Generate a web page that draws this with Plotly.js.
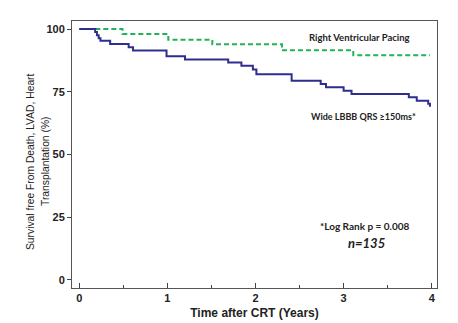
<!DOCTYPE html>
<html><head><meta charset="utf-8">
<script src="https://cdn.plot.ly/plotly-3.0.1.min.js"></script>
<style>html,body{margin:0;padding:0;background:#fff}#chart{width:458px;height:323px}</style>
</head><body><div id="chart"></div>
<script>
// Wide LBBB QRS >=150ms (blue, solid)
const lbbbTime = [0, 0.18, 0.20, 0.22, 0.24, 0.35, 0.56, 0.61, 0.99, 1.20, 1.69, 1.84, 1.97, 2.01, 2.41, 2.74, 2.80, 3.00, 3.09, 3.74, 3.83, 3.96, 3.98];
const lbbbSurv = [100, 98.8, 97.5, 96.3, 95.3, 94.0, 92.7, 91.4, 89.2, 87.9, 86.7, 85.4, 83.9, 82.0, 79.4, 78.1, 76.8, 75.4, 74.1, 72.8, 71.4, 70.2, 69.0];
// Right ventricular pacing (green, dashed)
const rvpTime = [0, 0.49, 1.01, 1.51, 2.30, 3.11, 3.98];
const rvpSurv = [100, 98.0, 95.7, 93.9, 91.5, 89.6, 89.6];
const xTicks = [0, 1, 2, 3, 4];
const yTicks = [0, 25, 50, 75, 100];
const yTitleLines = ['Survival free From Death, LVAD, Heart', 'Transplantation (%)'];

const boldFont = {family: 'Liberation Sans, Arial, sans-serif', size: 11, color: '#222', weight: 'bold'};
const titleFont = {family: 'Liberation Sans, Arial, sans-serif', size: 10.3, color: '#222'};
const traces = [
  {x: rvpTime, y: rvpSurv, mode: 'lines', line: {shape: 'hv', color: '#22b35a', width: 2, dash: '5px,3px'}, hoverinfo: 'skip'},
  {x: lbbbTime, y: lbbbSurv, mode: 'lines', line: {shape: 'hv', color: '#2e2e8f', width: 2}, hoverinfo: 'skip'}
];
const layout = {
  width: 458, height: 323,
  margin: {l: 72, r: 21, t: 21, b: 35},
  paper_bgcolor: '#fff', plot_bgcolor: '#fff',
  showlegend: false,
  xaxis: {
    range: [-0.083, 4.06], tickvals: xTicks, ticks: 'inside', ticklen: 5, tickwidth: 1, tickcolor: '#444',
    showline: true, linecolor: '#555', linewidth: 1, mirror: true, showgrid: false, zeroline: false,
    tickfont: boldFont,
    minor: {dtick: 0.5, tick0: 0, ticks: 'inside', ticklen: 3, tickcolor: '#444', showgrid: false},
    title: {text: 'Time after CRT (Years)', font: {family: 'Liberation Sans, Arial, sans-serif', size: 12, color: '#222', weight: 'bold'}, standoff: 5}
  },
  yaxis: {
    range: [-3.2, 103.2], tickvals: yTicks, ticks: 'outside', ticklen: 4, tickcolor: '#444',
    showline: true, linecolor: '#555', linewidth: 1, mirror: true, showgrid: false, zeroline: false,
    tickfont: boldFont
  },
  annotations: [
    {x: -0.134, y: 0.474, xref: 'paper', yref: 'paper', text: yTitleLines[0], textangle: -90, showarrow: false, font: titleFont},
    {x: -0.093, y: 0.474, xref: 'paper', yref: 'paper', text: yTitleLines[1], textangle: -90, showarrow: false, font: titleFont},
    {x: 3.18, y: 96.5, xref: 'x', yref: 'y', text: '<b>Right Ventricular Pacing</b>', showarrow: false, font: {family: 'Lato, sans-serif', size: 9.5, color: '#222'}},
    {x: 3.22, y: 65.0, xref: 'x', yref: 'y', text: '<b>Wide LBBB QRS ≥150ms*</b>', showarrow: false, font: {family: 'Lato, sans-serif', size: 9, color: '#222'}},
    {x: 3.24, y: 21.6, xref: 'x', yref: 'y', text: '<b>*Log Rank p = 0.008</b>', showarrow: false, font: {family: 'Lato, sans-serif', size: 10, color: '#222'}},
    {x: 3.26, y: 14.6, xref: 'x', yref: 'y', text: '<b><i>n=135</i></b>', showarrow: false, font: {family: 'Lato, sans-serif', size: 13, color: '#222'}}
  ]
};
Plotly.newPlot('chart', traces, layout, {displayModeBar: false, staticPlot: true});
</script></body></html>
